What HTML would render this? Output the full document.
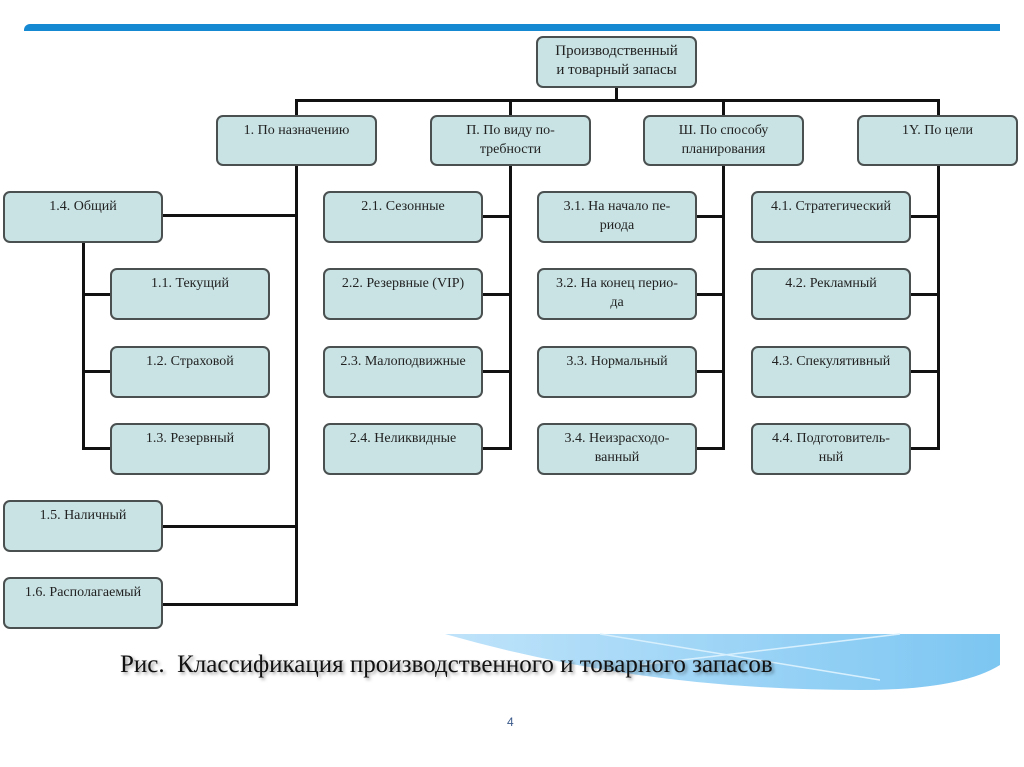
<!DOCTYPE html>
<html><head><meta charset="utf-8">
<style>
html,body{margin:0;padding:0;}
body{width:1024px;height:767px;position:relative;background:#fff;overflow:hidden;font-family:"Liberation Serif",serif;}
.b{position:absolute;box-sizing:border-box;background:#c9e3e4;border:2px solid #4a5050;border-radius:7px;text-align:center;font-size:14px;line-height:19px;color:#222;padding-top:4px;}
.l{position:absolute;background:#111;}
</style></head><body>
<div style="position:absolute;left:24px;top:24px;width:976px;height:7px;background:#1689d3;border-radius:6px 0 0 0;"></div>

<svg style="position:absolute;left:0;top:0" width="1024" height="767">
<defs><linearGradient id="g" x1="0" x2="1"><stop offset="0" stop-color="#bfe3fa"/><stop offset="1" stop-color="#7cc6f2"/></linearGradient></defs>
<path d="M445 634 L1000 634 L1000 665 Q960 690 860 690 Q640 690 445 634Z" fill="url(#g)"/>
<path d="M600 634 L880 680 M640 665 L900 634" stroke="#d8f0fd" stroke-width="1.5" fill="none"/>
</svg>

<!-- lines -->
<div class="l" style="left:615px;top:88px;width:3px;height:13px"></div>
<div class="l" style="left:295px;top:99px;width:645px;height:3px"></div>
<div class="l" style="left:295px;top:99px;width:3px;height:507px"></div>
<div class="l" style="left:509px;top:99px;width:3px;height:351px"></div>
<div class="l" style="left:722px;top:99px;width:3px;height:351px"></div>
<div class="l" style="left:937px;top:99px;width:3px;height:351px"></div>
<div class="l" style="left:162px;top:214px;width:135px;height:3px"></div>
<div class="l" style="left:162px;top:525px;width:135px;height:3px"></div>
<div class="l" style="left:162px;top:603px;width:135px;height:3px"></div>
<div class="l" style="left:82px;top:242px;width:3px;height:208px"></div>
<div class="l" style="left:82px;top:293px;width:28px;height:3px"></div>
<div class="l" style="left:82px;top:370px;width:28px;height:3px"></div>
<div class="l" style="left:82px;top:447px;width:28px;height:3px"></div>
<div class="l" style="left:483px;top:215px;width:28px;height:3px"></div>
<div class="l" style="left:483px;top:293px;width:28px;height:3px"></div>
<div class="l" style="left:483px;top:370px;width:28px;height:3px"></div>
<div class="l" style="left:483px;top:447px;width:28px;height:3px"></div>
<div class="l" style="left:697px;top:215px;width:28px;height:3px"></div>
<div class="l" style="left:697px;top:293px;width:28px;height:3px"></div>
<div class="l" style="left:697px;top:370px;width:28px;height:3px"></div>
<div class="l" style="left:697px;top:447px;width:28px;height:3px"></div>
<div class="l" style="left:911px;top:215px;width:28px;height:3px"></div>
<div class="l" style="left:911px;top:293px;width:28px;height:3px"></div>
<div class="l" style="left:911px;top:370px;width:28px;height:3px"></div>
<div class="l" style="left:911px;top:447px;width:28px;height:3px"></div>

<!-- boxes -->
<div class="b" style="left:536px;top:36px;width:161px;height:52px;font-size:15px;">Производственный<br>и товарный запасы</div>
<div class="b" style="left:216px;top:115px;width:161px;height:51px;">1. По назначению</div>
<div class="b" style="left:430px;top:115px;width:161px;height:51px;">П. По виду по-<br>требности</div>
<div class="b" style="left:643px;top:115px;width:161px;height:51px;">Ш. По способу<br>планирования</div>
<div class="b" style="left:857px;top:115px;width:161px;height:51px;">1Y. По цели</div>

<div class="b" style="left:3px;top:191px;width:160px;height:52px;">1.4. Общий</div>
<div class="b" style="left:110px;top:268px;width:160px;height:52px;">1.1. Текущий</div>
<div class="b" style="left:110px;top:346px;width:160px;height:52px;">1.2. Страховой</div>
<div class="b" style="left:110px;top:423px;width:160px;height:52px;">1.3. Резервный</div>
<div class="b" style="left:3px;top:500px;width:160px;height:52px;">1.5. Наличный</div>
<div class="b" style="left:3px;top:577px;width:160px;height:52px;">1.6. Располагаемый</div>

<div class="b" style="left:323px;top:191px;width:160px;height:52px;">2.1. Сезонные</div>
<div class="b" style="left:323px;top:268px;width:160px;height:52px;">2.2. Резервные (VIP)</div>
<div class="b" style="left:323px;top:346px;width:160px;height:52px;">2.3. Малоподвижные</div>
<div class="b" style="left:323px;top:423px;width:160px;height:52px;">2.4. Неликвидные</div>

<div class="b" style="left:537px;top:191px;width:160px;height:52px;">3.1. На начало пе-<br>риода</div>
<div class="b" style="left:537px;top:268px;width:160px;height:52px;">3.2. На конец перио-<br>да</div>
<div class="b" style="left:537px;top:346px;width:160px;height:52px;">3.3. Нормальный</div>
<div class="b" style="left:537px;top:423px;width:160px;height:52px;">3.4. Неизрасходо-<br>ванный</div>

<div class="b" style="left:751px;top:191px;width:160px;height:52px;">4.1. Стратегический</div>
<div class="b" style="left:751px;top:268px;width:160px;height:52px;">4.2. Рекламный</div>
<div class="b" style="left:751px;top:346px;width:160px;height:52px;">4.3. Спекулятивный</div>
<div class="b" style="left:751px;top:423px;width:160px;height:52px;">4.4. Подготовитель-<br>ный</div>

<div style="position:absolute;left:120px;top:650px;width:800px;font-size:25px;line-height:30px;color:#111;text-shadow:2px 2px 3px rgba(0,0,0,0.4);white-space:nowrap;">Рис.&nbsp; Классификация производственного и товарного запасов</div>
<div style="position:absolute;left:507px;top:715px;font-family:'Liberation Sans',sans-serif;font-size:12px;color:#3a5a8a;">4</div>
</body></html>
